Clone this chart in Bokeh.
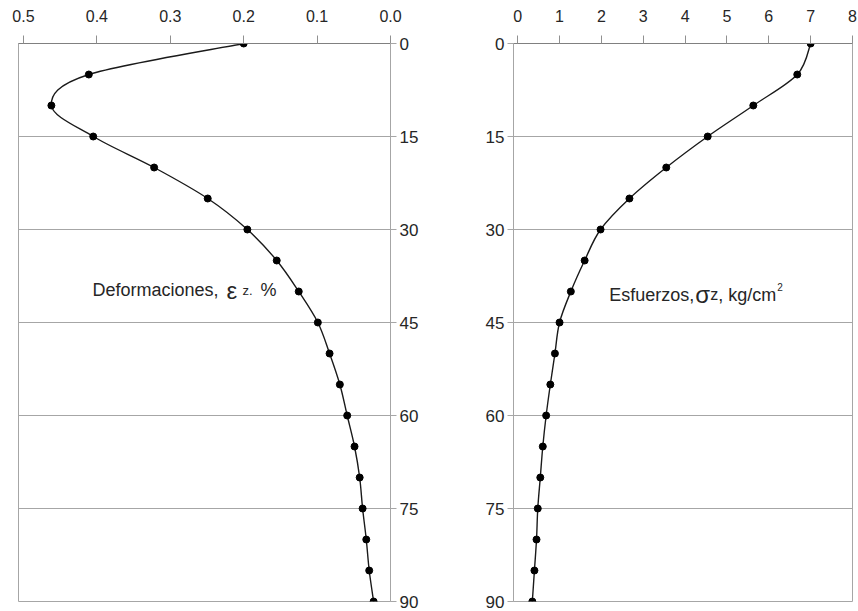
from bokeh.plotting import figure
from bokeh.models import Range1d, FixedTicker, PrintfTickFormatter, Label
from bokeh.layouts import row
from bokeh.embed import file_html
from bokeh.resources import INLINE

# ---- data ----
depth = [0, 5, 10, 15, 20, 25, 30, 35, 40, 45, 50, 55, 60, 65, 70, 75, 80, 85, 90]
strain = [0.200, 0.411, 0.462, 0.405, 0.322, 0.249, 0.195, 0.155, 0.125, 0.099,
          0.083, 0.069, 0.059, 0.049, 0.042, 0.038, 0.033, 0.029, 0.023]
stress = [7.00, 6.68, 5.63, 4.54, 3.55, 2.67, 1.98, 1.60, 1.27, 1.00,
          0.89, 0.78, 0.68, 0.60, 0.54, 0.48, 0.45, 0.40, 0.35]
strain_ticks = [0.0, 0.1, 0.2, 0.3, 0.4, 0.5]
stress_ticks = [0, 1, 2, 3, 4, 5, 6, 7, 8]
depth_ticks = [0, 15, 30, 45, 60, 75, 90]

FONT = "Liberation Sans"
GRID = "#a6a6a6"
TXT = "#262626"


def smooth_segments(xs, ys):
    """Catmull-Rom control points for a smooth curve through the data points."""
    n = len(xs)
    out = dict(x0=[], y0=[], x1=[], y1=[], cx0=[], cy0=[], cx1=[], cy1=[])
    for i in range(n - 1):
        im1 = max(i - 1, 0)
        ip2 = min(i + 2, n - 1)
        out["x0"].append(xs[i]); out["y0"].append(ys[i])
        out["x1"].append(xs[i + 1]); out["y1"].append(ys[i + 1])
        out["cx0"].append(xs[i] + (xs[i + 1] - xs[im1]) / 6.0)
        out["cy0"].append(ys[i] + (ys[i + 1] - ys[im1]) / 6.0)
        out["cx1"].append(xs[i + 1] - (xs[ip2] - xs[i]) / 6.0)
        out["cy1"].append(ys[i + 1] - (ys[ip2] - ys[i]) / 6.0)
    return out


def style(p):
    p.outline_line_color = GRID
    p.outline_line_width = 1
    p.xgrid.visible = False
    p.ygrid.ticker = FixedTicker(ticks=depth_ticks)
    p.ygrid.grid_line_color = GRID
    p.ygrid.grid_line_width = 1
    for ax in p.xaxis:
        ax.axis_line_color = "#808080"
        ax.major_tick_line_color = "#909090"
        ax.major_tick_out = 8
        ax.major_tick_in = 0
        ax.minor_tick_line_color = None
        ax.major_label_text_font = FONT
        ax.major_label_text_font_size = "16px"
        ax.major_label_text_color = TXT
        ax.major_label_standoff = 14
    for ax in p.yaxis:
        ax.ticker = FixedTicker(ticks=depth_ticks)
        ax.axis_line_color = GRID
        ax.major_tick_line_color = GRID
        ax.major_tick_out = 6
        ax.major_tick_in = 0
        ax.minor_tick_line_color = None
        ax.major_label_text_font = FONT
        ax.major_label_text_font_size = "17px"
        ax.major_label_text_color = TXT
        ax.major_label_standoff = 3


H = 610
# ---- left: strain ----
p1 = figure(width=470, height=H, output_backend="svg", toolbar_location=None,
            x_axis_location="above", y_axis_location="right",
            x_range=Range1d(0.5068, 0.0), y_range=Range1d(90, 0),
            min_border_left=18, min_border_right=80, min_border_top=43, min_border_bottom=9)
style(p1)
p1.xaxis.ticker = FixedTicker(ticks=strain_ticks)
p1.xaxis.formatter = PrintfTickFormatter(format="%.1f")

s1 = smooth_segments(strain, depth)
p1.bezier(x0=s1["x0"], y0=s1["y0"], x1=s1["x1"], y1=s1["y1"],
          cx0=s1["cx0"], cy0=s1["cy0"], cx1=s1["cx1"], cy1=s1["cy1"],
          line_color="#1a1a1a", line_width=1.4)
p1.scatter(strain, depth, size=7, color="black")

ax1, ay1 = 0.406, 39.8
p1.add_layout(Label(x=ax1, y=ay1, text="Deformaciones,", text_font=FONT,
                    text_font_size="18px", text_color=TXT, text_baseline="alphabetic"))
p1.add_layout(Label(x=ax1, y=ay1, x_offset=134, text="ε", text_font=FONT,
                    text_font_size="24px", text_color=TXT, text_baseline="alphabetic"))
p1.add_layout(Label(x=ax1, y=ay1, x_offset=150, text="z.", text_font=FONT,
                    text_font_size="13px", text_color=TXT, text_baseline="alphabetic"))
p1.add_layout(Label(x=ax1, y=ay1, x_offset=168, text="%", text_font=FONT,
                    text_font_size="18px", text_color=TXT, text_baseline="alphabetic"))

# ---- right: stress ----
p2 = figure(width=388, height=H, output_backend="svg", toolbar_location=None,
            x_axis_location="above", y_axis_location="left",
            x_range=Range1d(-0.1, 8.0), y_range=Range1d(90, 0),
            min_border_left=43, min_border_right=6, min_border_top=43, min_border_bottom=9)
style(p2)
p2.xaxis.ticker = FixedTicker(ticks=stress_ticks)

s2 = smooth_segments(stress, depth)
p2.bezier(x0=s2["x0"], y0=s2["y0"], x1=s2["x1"], y1=s2["y1"],
          cx0=s2["cx0"], cy0=s2["cy0"], cx1=s2["cx1"], cy1=s2["cy1"],
          line_color="#1a1a1a", line_width=1.4)
p2.scatter(stress, depth, size=7, color="black")

ax2, ay2 = 2.19, 40.5
p2.add_layout(Label(x=ax2, y=ay2, text="Esfuerzos,", text_font=FONT,
                    text_font_size="18px", text_color=TXT, text_baseline="alphabetic"))
p2.add_layout(Label(x=ax2, y=ay2, x_offset=86, text="σ", text_font=FONT,
                    text_font_size="24px", text_color=TXT, text_baseline="alphabetic"))
p2.add_layout(Label(x=ax2, y=ay2, x_offset=101, text="z", text_font=FONT,
                    text_font_size="16px", text_color=TXT, text_baseline="alphabetic"))
p2.add_layout(Label(x=ax2, y=ay2, x_offset=109, text=", kg/cm", text_font=FONT,
                    text_font_size="18px", text_color=TXT, text_baseline="alphabetic"))
p2.add_layout(Label(x=ax2, y=ay2, x_offset=168, y_offset=8, text="2", text_font=FONT,
                    text_font_size="10px", text_color=TXT, text_baseline="alphabetic"))

layout = row(p1, p2)
open("out.html", "w").write(file_html(layout, INLINE))
